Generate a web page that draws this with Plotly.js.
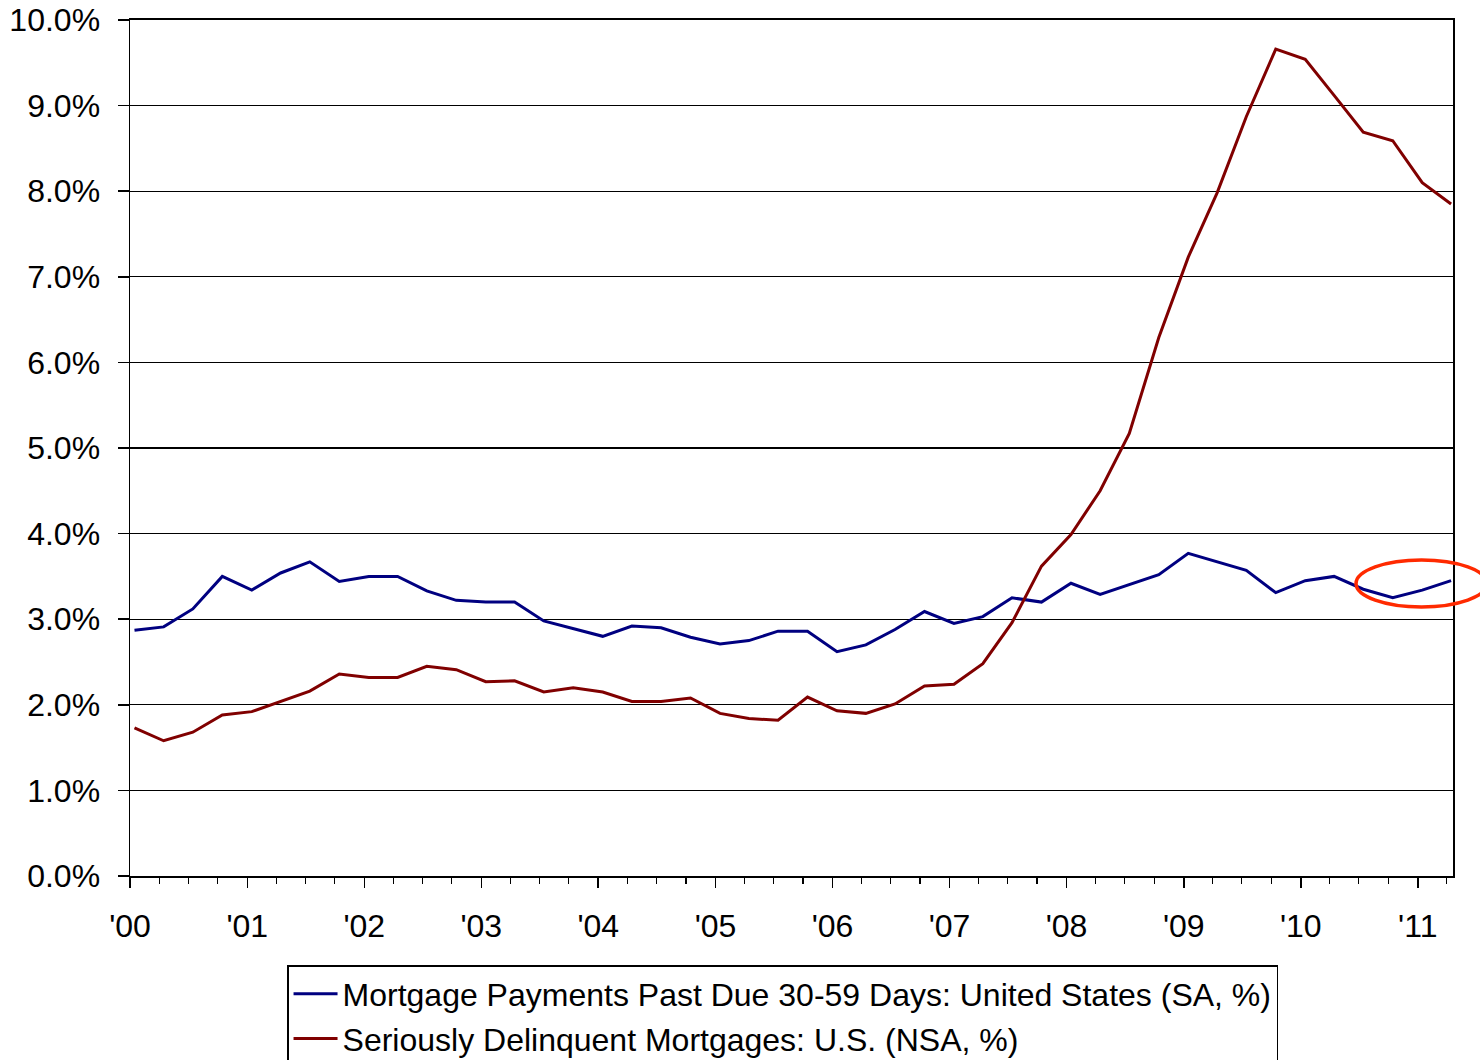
<!DOCTYPE html>
<html>
<head>
<meta charset="utf-8">
<script src="https://cdn.plot.ly/plotly-3.0.1.min.js"></script>
<style>
  html, body { margin: 0; padding: 0; background: #ffffff; }
  #chart { width: 1480px; height: 1060px; }
</style>
</head>
<body>
<div id="chart"></div>
<script>
// Quarterly observation dates, 2000 Q1 through 2011 Q2
const quarters = [
  "2000-01-15","2000-04-15","2000-07-15","2000-10-15",
  "2001-01-15","2001-04-15","2001-07-15","2001-10-15",
  "2002-01-15","2002-04-15","2002-07-15","2002-10-15",
  "2003-01-15","2003-04-15","2003-07-15","2003-10-15",
  "2004-01-15","2004-04-15","2004-07-15","2004-10-15",
  "2005-01-15","2005-04-15","2005-07-15","2005-10-15",
  "2006-01-15","2006-04-15","2006-07-15","2006-10-15",
  "2007-01-15","2007-04-15","2007-07-15","2007-10-15",
  "2008-01-15","2008-04-15","2008-07-15","2008-10-15",
  "2009-01-15","2009-04-15","2009-07-15","2009-10-15",
  "2010-01-15","2010-04-15","2010-07-15","2010-10-15",
  "2011-01-15","2011-04-15"
];

// Mortgage payments past due 30-59 days, United States (SA, %)
const pastDue3059 = [
  2.87, 2.91, 3.12, 3.50,
  3.34, 3.54, 3.67, 3.44,
  3.50, 3.50, 3.33, 3.22,
  3.20, 3.20, 2.98, 2.89,
  2.80, 2.92, 2.90, 2.79,
  2.71, 2.75, 2.86, 2.86,
  2.62, 2.70, 2.88, 3.09,
  2.95, 3.03, 3.25, 3.20,
  3.42, 3.29, 3.40, 3.52,
  3.77, 3.67, 3.57, 3.31,
  3.45, 3.50, 3.35, 3.25,
  3.34, 3.45
];

// Seriously delinquent mortgages, U.S. (NSA, %)
const seriouslyDelinquent = [
  1.73, 1.58, 1.68, 1.88,
  1.92, 2.04, 2.16, 2.36,
  2.32, 2.32, 2.45, 2.41,
  2.27, 2.28, 2.15, 2.20,
  2.15, 2.04, 2.04, 2.08,
  1.90, 1.84, 1.82, 2.09,
  1.93, 1.90, 2.01, 2.22,
  2.24, 2.48, 2.96, 3.62,
  3.99, 4.50, 5.17, 6.29,
  7.23, 7.98, 8.87, 9.66,
  9.54, 9.12, 8.69, 8.59,
  8.10, 7.85
];

const seriesNames = [
  "Mortgage Payments Past Due 30-59 Days: United States (SA, %)",
  "Seriously Delinquent Mortgages: U.S. (NSA, %)"
];

const FONT = "'Liberation Sans', Arial, Helvetica, sans-serif";
const FONT_SIZE = 32;

const traces = [
  {
    x: quarters, y: pastDue3059, name: seriesNames[0],
    type: "scatter", mode: "lines", legendgroup: "a",
    line: { color: "#000080", width: 3 }
  },
  {
    x: quarters, y: seriouslyDelinquent, name: seriesNames[1],
    type: "scatter", mode: "lines", legendgroup: "b",
    line: { color: "#800000", width: 3 }
  }
];

const layout = {
  width: 1480,
  height: 1060,
  paper_bgcolor: "#ffffff",
  plot_bgcolor: "#ffffff",
  font: { family: FONT, size: FONT_SIZE, color: "#000000" },
  margin: { l: 130, r: 27, t: 20, b: 184, autoexpand: false },
  showlegend: true,
  legend: {
    x: 0.1187, y: -0.1040, xanchor: "left", yanchor: "top",
    bgcolor: "#ffffff", bordercolor: "#000000", borderwidth: 1.5,
    font: { family: FONT, size: FONT_SIZE, color: "#000000" },
    itemwidth: 44, tracegroupgap: 0
  },
  xaxis: {
    type: "date",
    range: ["2000-01-01", "2011-04-21"],
    tick0: "2000-01-01",
    dtick: "M12",
    tickformat: "'%y",
    ticks: "outside", ticklen: 10, tickwidth: 1.5, tickcolor: "#000000",
    ticklabelstandoff: 11,
    minor: { dtick: "M3", ticks: "outside", ticklen: 6, tickwidth: 1.2, tickcolor: "#000000", showgrid: false },
    showgrid: false, zeroline: false,
    showline: true, linecolor: "#000000", linewidth: 2, mirror: true,
    tickfont: { family: FONT, size: FONT_SIZE, color: "#000000" },
    fixedrange: true
  },
  yaxis: {
    range: [0, 10],
    dtick: 1,
    tickformat: ".1f",
    ticksuffix: "%",
    ticks: "outside", ticklen: 11, tickwidth: 1.5, tickcolor: "#000000",
    ticklabelstandoff: 11,
    showgrid: true, gridcolor: "#000000", gridwidth: 1.3,
    zeroline: false,
    showline: true, linecolor: "#000000", linewidth: 1.5, mirror: true,
    tickfont: { family: FONT, size: FONT_SIZE, color: "#000000" },
    fixedrange: true
  },
  shapes: [
    // highlight around the latest readings of the 30-59 day series
    {
      type: "circle", xref: "paper", yref: "paper",
      x0: 0.9267, x1: 1.0257, y0: 0.3143, y1: 0.3692,
      line: { color: "#ff2a00", width: 3.5 },
      fillcolor: "rgba(0,0,0,0)"
    }
  ]
};

Plotly.newPlot("chart", traces, layout, { staticPlot: true, displayModeBar: false });
</script>
</body>
</html>
